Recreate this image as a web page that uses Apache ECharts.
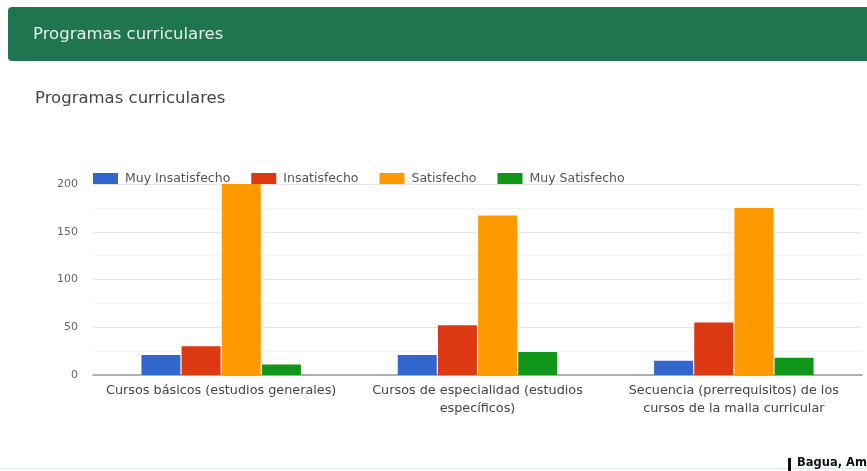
<!DOCTYPE html>
<html>
<head>
<meta charset="utf-8">
<script src="https://cdn.jsdelivr.net/npm/echarts@6/dist/echarts.min.js"></script>
<style>
html,body{margin:0;padding:0;background:#fff;}
#c{width:867px;height:471px;}
</style>
</head>
<body>
<div id="c"></div>
<script>
var categories = ['Cursos básicos (estudios generales)', 'Cursos de especialidad (estudios\nespecíficos)', 'Secuencia (prerrequisitos) de los\ncursos de la malla curricular'];
var seriesNames = ['Muy Insatisfecho', 'Insatisfecho', 'Satisfecho', 'Muy Satisfecho'];
var muyInsatisfecho = [21, 21, 15];
var insatisfecho = [30, 52, 55];
var satisfecho = [200, 167, 175];
var muySatisfecho = [11, 24, 18];
var yTicks = [0, 50, 100, 150, 200];
var colors = ['#3366cc', '#dc3912', '#ff9900', '#109618'];

var FONT = '"DejaVu Sans", Arial, sans-serif';
var chart = echarts.init(document.getElementById('c'));
var dataSets = [muyInsatisfecho, insatisfecho, satisfecho, muySatisfecho];
chart.setOption({
  animation: false,
  color: colors,
  title: {
    text: 'Programas curriculares',
    left: 30, top: 85,
    textStyle: {fontFamily: FONT, fontSize: 16.5, fontWeight: 'normal', color: '#444'}
  },
  graphic: [
    {type: 'rect', shape: {x: 8, y: 7, width: 870, height: 54, r: 4}, style: {fill: '#1e7550'}, z: 0},
    {type: 'text', left: 33, top: 26, style: {text: 'Programas curriculares', fill: '#e6f1ea', font: '16.5px "DejaVu Sans", Arial, sans-serif'}},
    {type: 'rect', shape: {x: 0, y: 468, width: 867, height: 1}, style: {fill: '#d6e6f2'}},
    {type: 'rect', shape: {x: 788, y: 458, width: 3, height: 13}, style: {fill: '#111'}},
    {type: 'text', left: 797, top: 457, style: {text: 'Bagua, Am', fill: '#111', font: 'bold 11.5px "DejaVu Sans", Arial, sans-serif'}}
  ],
  legend: {
    data: seriesNames,
    left: 88, top: 167,
    itemWidth: 25, itemHeight: 11, itemGap: 21,
    icon: 'rect',
    textStyle: {fontFamily: FONT, fontSize: 12.5, color: '#555', padding: [0, 0, 0, 2]}
  },
  grid: {left: 93, right: 5, top: 184, bottom: 96},
  xAxis: {
    type: 'category',
    data: categories,
    axisTick: {show: false},
    axisLine: {lineStyle: {color: '#999', width: 1.5}},
    axisLabel: {fontFamily: FONT, fontSize: 12.8, color: '#444', margin: 7, lineHeight: 18, interval: 0}
  },
  yAxis: {
    type: 'value', min: yTicks[0], max: yTicks[yTicks.length-1], interval: 50,
    axisLabel: {fontFamily: FONT, fontSize: 11, color: '#666', margin: 15},
    splitLine: {lineStyle: {color: '#e6e6e6'}},
    minorTick: {show: false, splitNumber: 2},
    minorSplitLine: {show: true, lineStyle: {color: '#f3f3f3'}}
  },
  series: seriesNames.map(function(n, i){
    return {name: n, type: 'bar', data: dataSets[i], barWidth: 39, barGap: '3%'};
  })
});
</script>
</body>
</html>
